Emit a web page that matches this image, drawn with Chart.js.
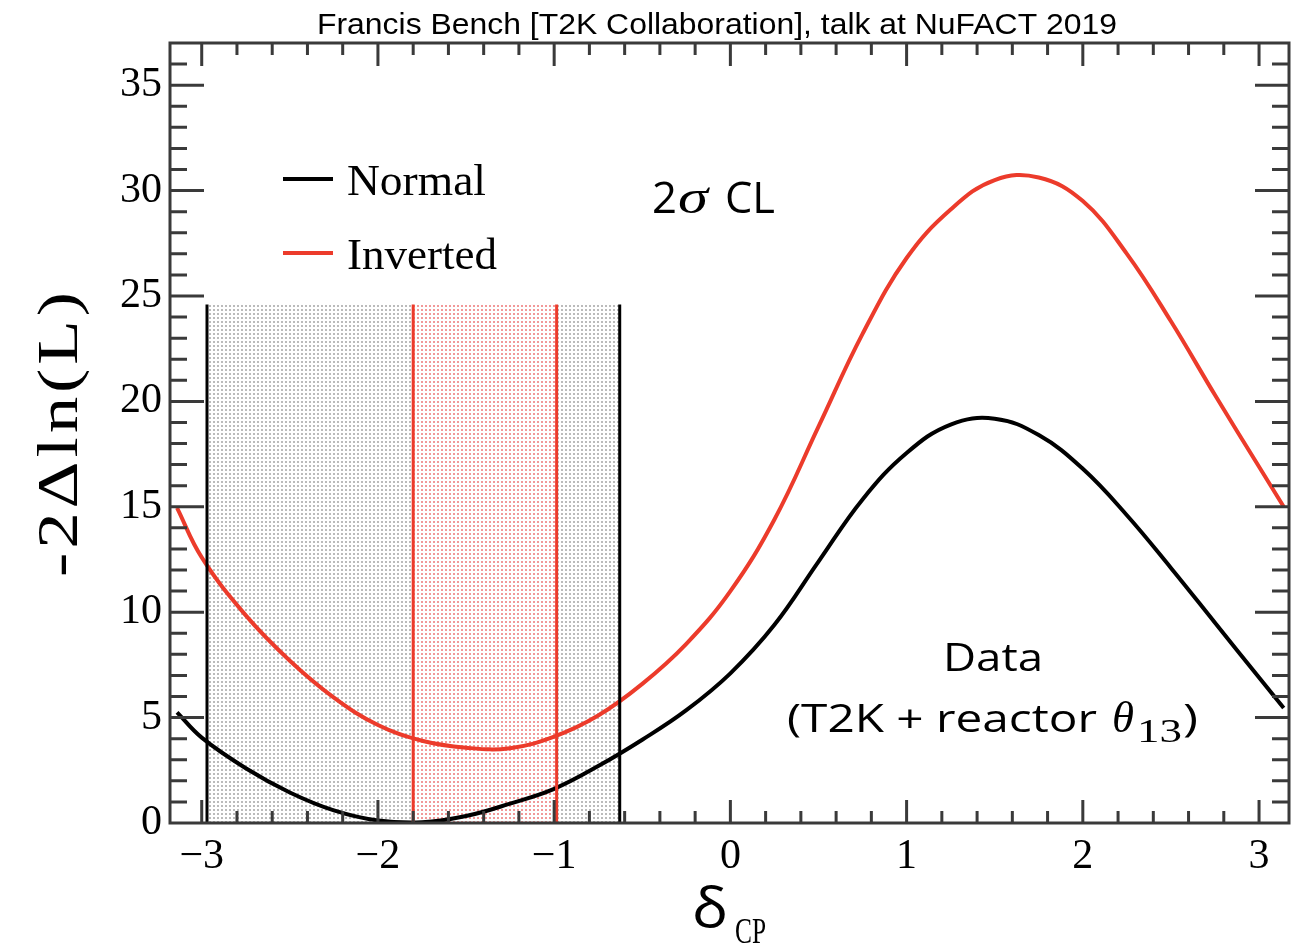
<!DOCTYPE html>
<html>
<head>
<meta charset="utf-8">
<script src="https://cdn.jsdelivr.net/npm/chart.js@4/dist/chart.umd.min.js"></script>
<style>
html,body{margin:0;padding:0;background:#fff}
</style>
</head>
<body>
<canvas id="chartArea" width="1291" height="947"></canvas>
<script>
// -2 delta ln(L) vs delta_CP
var dcp = [-3.14, -3.0, -2.75, -2.5, -2.25, -2.0, -1.75, -1.5, -1.25, -1.0, -0.75, -0.5, -0.25, 0, 0.25, 0.5, 0.75, 1.0, 1.25, 1.5, 1.75, 2.0, 2.25, 2.5, 2.75, 3.0, 3.14]
var normalLL = [5.25, 4.05, 2.6, 1.45, 0.6, 0.12, 0.03, 0.33, 0.92, 1.62, 2.7, 3.95, 5.35, 7.1, 9.4, 12.4, 15.35, 17.55, 18.9, 19.18, 18.4, 16.8, 14.6, 12.1, 9.5, 6.9, 5.45]
var invertedLL = [14.95, 12.6, 9.85, 7.7, 5.95, 4.65, 3.9, 3.57, 3.55, 4.1, 5.1, 6.6, 8.5, 11.0, 14.4, 18.8, 23.2, 26.8, 29.1, 30.5, 30.62, 29.5, 27.0, 23.8, 20.3, 16.9, 15.0]

// 2 sigma intervals
var normalInterval = [-2.97, -0.628]
var invertedInterval = [-1.80, -0.986]
var bandTop = 24.6

var seriesLabels = ['Normal', 'Inverted']
var xTicks = [-3, -2, -1, 0, 1, 2, 3]
var yTicks = [0, 5, 10, 15, 20, 25, 30, 35]

var titleText = 'Francis Bench [T2K Collaboration], talk at NuFACT 2019'

var X_MIN = -3.18, X_MAX = 3.17, Y_MIN = 0, Y_MAX = 37
var RED = '#ec3b2b'

function toPoints(xs, ys){
  var out = []
  for(var i = 0; i < xs.length; i++){
    out.push({x: xs[i], y: ys[i]})
  }
  return out
}

function dotPattern(color){
  var tile = document.createElement('canvas')
  tile.width = 4; tile.height = 4
  var g = tile.getContext('2d')
  g.fillStyle = '#fff'
  g.fillRect(0, 0, 4, 4)
  g.fillStyle = color
  g.fillRect(1, 1, 2, 2)
  return g.createPattern(tile, 'repeat')
}

function fitText(c, str, x, y, font, width, spacing){
  c.save()
  c.font = font
  c.textAlign = 'left'
  c.textBaseline = 'alphabetic'
  if(spacing) c.letterSpacing = spacing + 'px'
  var w = c.measureText(str).width
  c.translate(x, y)
  if(width) c.scale(width / w, 1)
  c.fillText(str, 0, 0)
  c.restore()
}

var rootFrame = {
  id: 'rootFrame',
  afterDatasetsDraw: function(chart){
    var c = chart.ctx, a = chart.chartArea
    var xs = chart.scales.x, ys = chart.scales.y
    c.save()
    c.strokeStyle = '#3a3a3a'
    c.lineWidth = 3
    c.beginPath()
    for(var i = -16; i <= 16; i++){
      var v = i / 5
      if(v < X_MIN || v > X_MAX) continue
      var px = xs.getPixelForValue(v)
      var len = (i % 5 === 0) ? 23 : 12
      c.moveTo(px, a.bottom); c.lineTo(px, a.bottom - len)
      c.moveTo(px, a.top); c.lineTo(px, a.top + len)
    }
    for(var j = 1; j < Y_MAX; j++){
      var py = ys.getPixelForValue(j)
      var l2 = (j % 5 === 0) ? 34 : 17
      c.moveTo(a.left, py); c.lineTo(a.left + l2, py)
      c.moveTo(a.right, py); c.lineTo(a.right - l2, py)
    }
    c.stroke()
    c.strokeRect(a.left, a.top, a.right - a.left, a.bottom - a.top)
    c.restore()
  },
  afterDraw: function(chart){
    var c = chart.ctx
    c.save()
    c.fillStyle = '#000'

    fitText(c, titleText, 317, 34, '30px "Liberation Sans"', 800)

    // y title
    c.save()
    c.translate(77, 577)
    c.rotate(-Math.PI / 2)
    fitText(c, '-2\u0394ln(L)', 0, 0, '56px "Liberation Serif"', 289, 3)
    c.restore()

    // x title
    fitText(c, '\u03b4', 692, 927, '54px "Open Sans"', 36)
    fitText(c, 'CP', 735, 943, '36px "Liberation Serif"', 31)

    // legend
    var ds = chart.data.datasets
    var rows = [179, 253]
    for(var k = 0; k < 2; k++){
      c.strokeStyle = ds[k].borderColor
      c.lineWidth = 4
      c.beginPath()
      c.moveTo(283, rows[k]); c.lineTo(333, rows[k])
      c.stroke()
      fitText(c, ds[k].label, 347, rows[k] + 16, '45px "Liberation Serif"', k === 0 ? 139 : 150)
    }

    // annotations
    fitText(c, '2', 652, 213, '43px "Open Sans"', 25)
    fitText(c, '\u03c3', 678, 213, 'italic 48px "Liberation Serif"', 30)
    fitText(c, 'CL', 725, 213, '43px "Open Sans"', 50)

    fitText(c, 'Data', 943, 671, '38px "Open Sans"', 100)
    fitText(c, '(T2K + reactor', 787, 732, '38px "Open Sans"', 310)
    fitText(c, '\u03b8', 1112, 732, 'italic 44px "Liberation Serif"', 22)
    fitText(c, '13', 1137, 742, '34px "Liberation Serif"', 45)
    fitText(c, ')', 1183, 732, '38px "Open Sans"', 15)
    c.restore()
  }
}

var tickFont = {family: 'Liberation Serif', size: 42}

var myChart = new Chart(document.getElementById('chartArea').getContext('2d'), {
  type: 'line',
  data: {
    datasets: [
      {
        label: seriesLabels[0],
        data: toPoints(dcp, normalLL),
        borderColor: '#000', borderWidth: 4, pointRadius: 0,
        tension: 0.4, fill: false, order: 2
      },
      {
        label: seriesLabels[1],
        data: toPoints(dcp, invertedLL),
        borderColor: RED, borderWidth: 4, pointRadius: 0,
        tension: 0.4, fill: false, order: 3
      },
      {
        label: 'nl', data: [{x: normalInterval[0], y: 0}, {x: normalInterval[0], y: bandTop}],
        borderColor: '#000', borderWidth: 3, pointRadius: 0, fill: false, order: 0
      },
      {
        label: 'nr', data: [{x: normalInterval[1], y: 0}, {x: normalInterval[1], y: bandTop}],
        borderColor: '#000', borderWidth: 3, pointRadius: 0, fill: false, order: 0
      },
      {
        label: 'il', data: [{x: invertedInterval[0], y: 0}, {x: invertedInterval[0], y: bandTop}],
        borderColor: RED, borderWidth: 3, pointRadius: 0, fill: false, order: 1
      },
      {
        label: 'ir', data: [{x: invertedInterval[1], y: 0}, {x: invertedInterval[1], y: bandTop}],
        borderColor: RED, borderWidth: 3, pointRadius: 0, fill: false, order: 1
      },
      {
        label: 'iband', data: [{x: invertedInterval[0], y: bandTop}, {x: invertedInterval[1], y: bandTop}],
        borderWidth: 0, borderColor: 'rgba(0,0,0,0)', pointRadius: 0,
        backgroundColor: dotPattern('rgba(238,135,135,0.85)'), fill: 'origin', order: 8
      },
      {
        label: 'nband', data: [{x: normalInterval[0], y: bandTop}, {x: normalInterval[1], y: bandTop}],
        borderWidth: 0, borderColor: 'rgba(0,0,0,0)', pointRadius: 0,
        backgroundColor: dotPattern('rgba(175,175,175,0.85)'), fill: 'origin', order: 9
      }
    ]
  },
  options: {
    responsive: false,
    animation: false,
    layout: {padding: {top: 43, right: 2, left: 0, bottom: 0}},
    plugins: {legend: {display: false}, tooltip: {enabled: false}, title: {display: false}},
    scales: {
      x: {
        type: 'linear', min: X_MIN, max: X_MAX,
        grid: {display: false, drawTicks: false}, border: {display: false},
        afterBuildTicks: function(s){ s.ticks = xTicks.map(function(v){ return {value: v} }) },
        afterFit: function(s){ s.height = 124 },
        ticks: {
          font: tickFont, color: '#000', padding: 9, maxRotation: 0, autoSkip: false,
          callback: function(v){ return String(v).replace('-', '\u2212') }
        }
      },
      y: {
        type: 'linear', min: Y_MIN, max: Y_MAX,
        grid: {display: false, drawTicks: false}, border: {display: false},
        afterBuildTicks: function(s){ s.ticks = yTicks.map(function(v){ return {value: v} }) },
        afterFit: function(s){ s.width = 170 },
        ticks: {font: tickFont, color: '#000', padding: 8, autoSkip: false}
      }
    }
  },
  plugins: [rootFrame]
})
</script>
</body>
</html>
